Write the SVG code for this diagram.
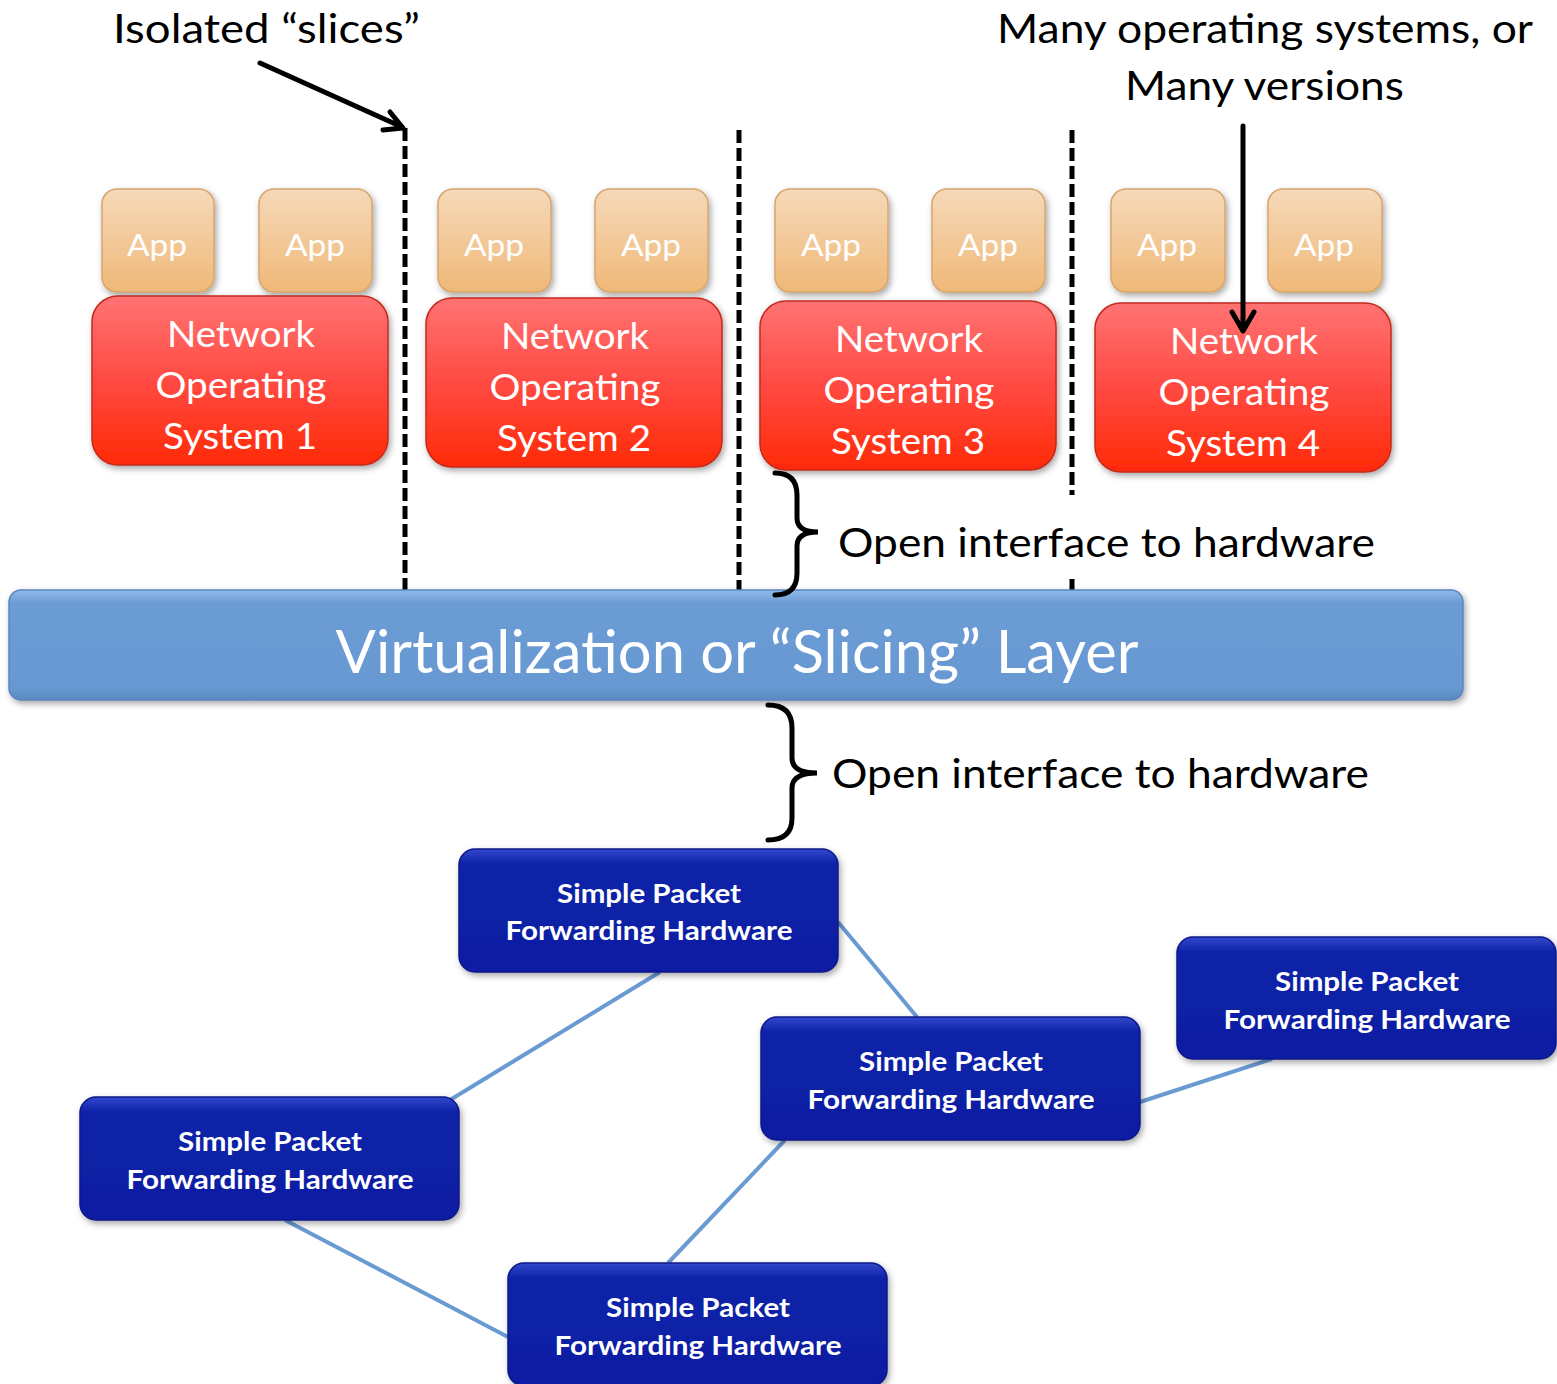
<svg xmlns="http://www.w3.org/2000/svg" width="1557" height="1384" viewBox="0 0 1557 1384">
<style>
text{font-family:Lato,"Open Sans","Liberation Sans",sans-serif}
.lbl{fill:#000;font-size:41px}
.app rect{fill:url(#gApp);stroke:#d6a66c;stroke-width:1.5}
.app text{fill:#fff;font-size:30px;text-anchor:middle}
.nos rect{fill:url(#gNos);stroke:#c42a1e;stroke-width:1.5}
.nos text{fill:#fff;font-size:37px;text-anchor:middle}
.hw rect{fill:url(#gHw);stroke:#0a1888;stroke-width:1.5}
.hw text{fill:#fff;font-size:26px;font-weight:bold;text-anchor:middle}
.dash{stroke:#000;stroke-width:5;stroke-dasharray:13 5;fill:none}
.link{stroke:#6a9ad2;stroke-width:4;fill:none}
.arr{stroke:#000;stroke-width:5;fill:none;stroke-linecap:round;stroke-linejoin:round}
.brace{stroke:#000;stroke-width:5;fill:none;stroke-linecap:round}
</style>
<defs>
<linearGradient id="gApp" x1="0" y1="0" x2="0" y2="1">
<stop offset="0" stop-color="#f6d9ba"/><stop offset="1" stop-color="#efb877"/>
</linearGradient>
<linearGradient id="gNos" x1="0" y1="0" x2="0" y2="1">
<stop offset="0" stop-color="#ff7373"/><stop offset="0.5" stop-color="#ff4a42"/><stop offset="1" stop-color="#ff2a08"/>
</linearGradient>
<linearGradient id="gBar" x1="0" y1="0" x2="0" y2="1">
<stop offset="0" stop-color="#8fbaea"/><stop offset="0.12" stop-color="#6c9cd4"/><stop offset="0.9" stop-color="#6698d2"/><stop offset="1" stop-color="#5a88c0"/>
</linearGradient>
<linearGradient id="gHw" x1="0" y1="0" x2="0" y2="1">
<stop offset="0" stop-color="#3448cc"/><stop offset="0.12" stop-color="#0e22a8"/><stop offset="1" stop-color="#0a1ea2"/>
</linearGradient>
<filter id="sh" x="-10%" y="-10%" width="120%" height="130%">
<feDropShadow dx="2" dy="3" stdDeviation="3" flood-color="#000" flood-opacity="0.35"/>
</filter>
</defs>

<g id="links">
<line class="link" x1="838" y1="922" x2="917" y2="1017"/>
<line class="link" x1="660" y1="972" x2="450" y2="1100"/>
<line class="link" x1="1140" y1="1102" x2="1272" y2="1059"/>
<line class="link" x1="785" y1="1140" x2="668" y2="1263"/>
<line class="link" x1="285" y1="1220" x2="508" y2="1337"/>
</g>
<g id="slices">
<line class="dash" x1="405" y1="128" x2="405" y2="590"/>
<line class="dash" x1="739" y1="130" x2="739" y2="592"/>
<line class="dash" x1="1072" y1="130" x2="1072" y2="495"/>
<line class="dash" x1="1072" y1="579" x2="1072" y2="592"/>
</g>

<g id="label-isolated"><text class="lbl" x="113" y="43" textLength="307" lengthAdjust="spacingAndGlyphs">Isolated “slices”</text></g>
<g id="label-many">
<text class="lbl" x="997" y="43" textLength="536" lengthAdjust="spacingAndGlyphs">Many operating systems, or</text>
<text class="lbl" x="1125" y="100" textLength="279" lengthAdjust="spacingAndGlyphs">Many versions</text>
</g>

<g id="app1" class="app"><rect x="102" y="189" width="112" height="103" rx="15" filter="url(#sh)"/><text x="157" y="256" textLength="60" lengthAdjust="spacingAndGlyphs">App</text></g>
<g id="app2" class="app"><rect x="259" y="189" width="113" height="103" rx="15" filter="url(#sh)"/><text x="315" y="256" textLength="60" lengthAdjust="spacingAndGlyphs">App</text></g>
<g id="app3" class="app"><rect x="438" y="189" width="113" height="103" rx="15" filter="url(#sh)"/><text x="494" y="256" textLength="60" lengthAdjust="spacingAndGlyphs">App</text></g>
<g id="app4" class="app"><rect x="595" y="189" width="113" height="103" rx="15" filter="url(#sh)"/><text x="651" y="256" textLength="60" lengthAdjust="spacingAndGlyphs">App</text></g>
<g id="app5" class="app"><rect x="775" y="189" width="113" height="103" rx="15" filter="url(#sh)"/><text x="831" y="256" textLength="60" lengthAdjust="spacingAndGlyphs">App</text></g>
<g id="app6" class="app"><rect x="932" y="189" width="113" height="103" rx="15" filter="url(#sh)"/><text x="988" y="256" textLength="60" lengthAdjust="spacingAndGlyphs">App</text></g>
<g id="app7" class="app"><rect x="1111" y="189" width="114" height="103" rx="15" filter="url(#sh)"/><text x="1167" y="256" textLength="60" lengthAdjust="spacingAndGlyphs">App</text></g>
<g id="app8" class="app"><rect x="1268" y="189" width="114" height="103" rx="15" filter="url(#sh)"/><text x="1324" y="256" textLength="60" lengthAdjust="spacingAndGlyphs">App</text></g>

<g id="nos1" class="nos"><rect x="92" y="296" width="296" height="169" rx="26" filter="url(#sh)"/>
<text x="241" y="347" textLength="148" lengthAdjust="spacingAndGlyphs">Network</text>
<text x="241" y="398" textLength="171" lengthAdjust="spacingAndGlyphs">Operating</text>
<text x="240" y="449" textLength="154" lengthAdjust="spacingAndGlyphs">System 1</text></g>
<g id="nos2" class="nos"><rect x="426" y="298" width="296" height="169" rx="26" filter="url(#sh)"/>
<text x="575" y="349" textLength="148" lengthAdjust="spacingAndGlyphs">Network</text>
<text x="575" y="400" textLength="171" lengthAdjust="spacingAndGlyphs">Operating</text>
<text x="574" y="451" textLength="154" lengthAdjust="spacingAndGlyphs">System 2</text></g>
<g id="nos3" class="nos"><rect x="760" y="301" width="296" height="169" rx="26" filter="url(#sh)"/>
<text x="909" y="352" textLength="148" lengthAdjust="spacingAndGlyphs">Network</text>
<text x="909" y="403" textLength="171" lengthAdjust="spacingAndGlyphs">Operating</text>
<text x="908" y="454" textLength="154" lengthAdjust="spacingAndGlyphs">System 3</text></g>
<g id="nos4" class="nos"><rect x="1095" y="303" width="296" height="169" rx="26" filter="url(#sh)"/>
<text x="1244" y="354" textLength="148" lengthAdjust="spacingAndGlyphs">Network</text>
<text x="1244" y="405" textLength="171" lengthAdjust="spacingAndGlyphs">Operating</text>
<text x="1243" y="456" textLength="154" lengthAdjust="spacingAndGlyphs">System 4</text></g>

<g id="virt"><rect x="9" y="590" width="1454" height="110" rx="12" fill="url(#gBar)" stroke="#5a86bd" stroke-width="1.5" filter="url(#sh)"/>
<text x="737" y="673" fill="#fff" font-size="60" text-anchor="middle" textLength="803" lengthAdjust="spacingAndGlyphs">Virtualization or “Slicing” Layer</text></g>

<g id="label-open1"><text class="lbl" x="838" y="557" textLength="537" lengthAdjust="spacingAndGlyphs">Open interface to hardware</text></g>
<g id="label-open2"><text class="lbl" x="832" y="788" textLength="537" lengthAdjust="spacingAndGlyphs">Open interface to hardware</text></g>

<g id="hw1" class="hw"><rect x="459" y="849" width="379" height="123" rx="16" filter="url(#sh)"/>
<text x="649" y="903" textLength="184" lengthAdjust="spacingAndGlyphs">Simple Packet</text>
<text x="649" y="940" textLength="287" lengthAdjust="spacingAndGlyphs">Forwarding Hardware</text></g>
<g id="hw2" class="hw"><rect x="1177" y="937" width="379" height="122" rx="16" filter="url(#sh)"/>
<text x="1367" y="991" textLength="184" lengthAdjust="spacingAndGlyphs">Simple Packet</text>
<text x="1367" y="1029" textLength="287" lengthAdjust="spacingAndGlyphs">Forwarding Hardware</text></g>
<g id="hw3" class="hw"><rect x="761" y="1017" width="379" height="123" rx="16" filter="url(#sh)"/>
<text x="951" y="1071" textLength="184" lengthAdjust="spacingAndGlyphs">Simple Packet</text>
<text x="951" y="1109" textLength="287" lengthAdjust="spacingAndGlyphs">Forwarding Hardware</text></g>
<g id="hw4" class="hw"><rect x="80" y="1097" width="379" height="123" rx="16" filter="url(#sh)"/>
<text x="270" y="1151" textLength="184" lengthAdjust="spacingAndGlyphs">Simple Packet</text>
<text x="270" y="1189" textLength="287" lengthAdjust="spacingAndGlyphs">Forwarding Hardware</text></g>
<g id="hw5" class="hw"><rect x="508" y="1263" width="379" height="123" rx="16" filter="url(#sh)"/>
<text x="698" y="1317" textLength="184" lengthAdjust="spacingAndGlyphs">Simple Packet</text>
<text x="698" y="1355" textLength="287" lengthAdjust="spacingAndGlyphs">Forwarding Hardware</text></g>

<g id="connectors">
<path class="arr" d="M260,63 L402,127 M390,112 L403,128 L383,130"/>
<path class="arr" d="M1243,126 L1243,330 M1232,312 L1243,331 L1254,312"/>
<path class="brace" d="M775,473 Q797,473 797,495 L797,518 Q797,532 818,532 Q797,532 797,546 L797,573 Q797,595 775,595"/>
<path class="brace" d="M768,705 Q792,705 792,728 L792,758 Q792,773 817,773 Q792,773 792,788 L792,818 Q792,840 768,840"/>
</g>
</svg>
